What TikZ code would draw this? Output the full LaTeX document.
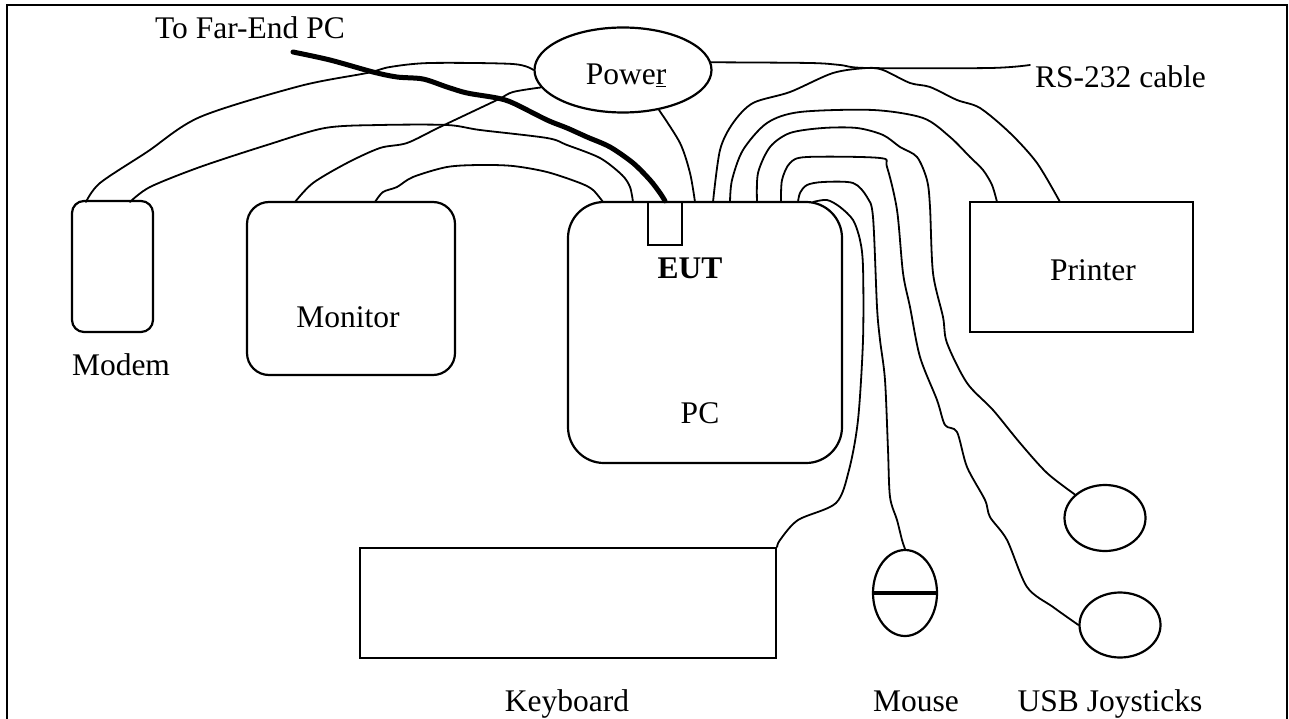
\documentclass[tikz,border=0pt]{standalone}
\usepackage{fontspec}
\setmainfont{Liberation Serif}
\usetikzlibrary{shapes.geometric}

\tikzset{
  device/.style={draw, line width=2.2pt, inner sep=0pt},
  roundbox/.style={device, rectangle, rounded corners=#1},
  blob/.style={device, ellipse},
  cable/.style={line width=1.8pt, line join=round, line cap=round},
  farcable/.style={line width=5pt, line join=round, line cap=round},
  tag/.style={inner sep=0pt},
}

\begin{document}
\begin{tikzpicture}[x=1pt, y=-1pt, font=\fontsize{31.5}{36}\selectfont]
\useasboundingbox (0,0) rectangle (1289,719);
\draw[line width=2pt] (7,719) -- (7,5) -- (1287,5) -- (1287,719);

% equipment
\node[roundbox=12pt, minimum width=81pt, minimum height=131pt] (modem) at (112.5,266.5) {};
\node[roundbox=22pt, minimum width=208pt, minimum height=173pt] (monitor) at (351,288.5) {};
\node[roundbox=36pt, minimum width=274pt, minimum height=261pt] (pc) at (705,332.5) {};
\node[device, rectangle, minimum width=34pt, minimum height=43pt] (port) at (665,223.5) {};
\node[device, rectangle, minimum width=223pt, minimum height=130pt] (printer) at (1081.5,267) {};
\node[device, rectangle, minimum width=416pt, minimum height=110pt] (kbd) at (568,603) {};
\node[blob, minimum width=64pt, minimum height=86pt] (mouse) at (905,593) {};
\draw[line width=3.5pt] (mouse.west) -- (mouse.east);
\node[blob, minimum width=81pt, minimum height=66pt] (joy1) at (1105,518) {};
\node[blob, minimum width=81pt, minimum height=65pt] (joy2) at (1120,625) {};
\node[blob, minimum width=177pt, minimum height=85pt] (power) at (623,70) {};
\node[tag] (powerlbl) at (626,75) {Powe\underline{r}};

% labels
\node[tag] (modemlbl) at (121,365) {Modem};
\node[tag] (monitorlbl) at (348,317) {Monitor};
\node[tag, font=\fontsize{31.5}{36}\selectfont\bfseries] (eutlbl) at (690,268) {EUT};
\node[tag] (pclbl) at (700,413) {PC};
\node[tag] (printerlbl) at (1093,270) {Printer};
\node[tag, anchor=base] (kbdlbl) at (567,711) {Keyboard};
\node[tag, anchor=base] (mouselbl) at (916,711) {Mouse};
\node[tag, anchor=base] (joylbl) at (1110,711) {USB Joysticks};
\node[tag] (farlbl) at (250,28) {To Far-End PC};
\node[tag, anchor=west] (rslbl) at (1035,77) {RS-232 cable};

% cable ends
\coordinate (far) at (293,52);
\coordinate (md1) at (86,202);
\coordinate (md2) at (130,202);
\coordinate (mn1) at (295,202);
\coordinate (mn2) at (375,202);
\coordinate (pc1) at (603,202);
\coordinate (pc2) at (633,202);
\coordinate (pc3) at (695,202);
\coordinate (pc4) at (713,202);
\coordinate (pc5) at (730,202);
\coordinate (pc6) at (757,202);
\coordinate (pc7) at (781,202);
\coordinate (pc8) at (798,202);
\coordinate (pc9) at (813,202);
\coordinate (pr1) at (997,202);
\coordinate (pr2) at (1060,202);

% cables
\draw[cable] plot[smooth, tension=0.5] coordinates {(md1) (100,183) (147,152) (200,117) (300,86) (367,73) (390,67) (430,63) (513,64) (power.west)};
\draw[cable] plot[smooth, tension=0.5] coordinates {(md2) (150,187) (200,167) (267,145) (325,128) (380,125) (447,125) (480,130) (547,138) (567,145) (600,158) (622,175) (630,187) (pc2)};
\draw[cable] plot[smooth, tension=0.5] coordinates {(power.192) (513,92) (497,100) (440,127) (407,143) (380,148) (347,163) (313,183) (mn1)};
\draw[cable] plot[smooth, tension=0.5] coordinates {(mn2) (383,192) (397,187) (413,177) (447,167) (480,165) (513,166) (547,172) (580,183) (593,190) (pc1)};
\draw[cable] plot[smooth, tension=0.5] coordinates {(power.312) (680,143) (690,173) (pc3)};
\draw[cable] plot[smooth, tension=0.5] coordinates {(power.5) (810,63) (840,65) (867,68) (990,68) ([xshift=-5pt,yshift=12pt]rslbl.west)};
\draw[cable] plot[smooth, tension=0.5] coordinates {(pc4) (720,150) (733,123) (753,103) (790,92) (833,73) (867,68) (883,70) (910,83) (930,87) (957,100) (980,108) (1010,133) (1037,163) (pr2)};
\draw[cable] plot[smooth, tension=0.5] coordinates {(pc5) (732,180) (743,150) (767,123) (800,112) (873,110) (923,118) (950,137) (970,157) (983,170) (992,185) (pr1)};
\draw[cable] plot[smooth, tension=0.5] coordinates {(pc6) (758,173) (770,147) (790,133) (823,128) (857,128) (883,135) (900,147) (917,157) (927,180) (930,207) (933,273) (943,317) (947,343) (967,383) (993,410) (1020,443) (1047,473) (joy1.142)};
\draw[cable] plot[smooth, tension=0.5] coordinates {(pc7) (782,180) (790,163) (807,157) (880,158) (887,167) (897,210) (903,273) (910,307) (920,357) (937,400) (945,425) (957,432) (967,467) (985,500) (990,517) (1007,540) (1027,587) (1053,607) (joy2.west)};
\draw[cable] plot[smooth, tension=0.5] coordinates {(pc8) (800,193) (807,185) (823,182) (853,183) (867,197) (873,217) (877,307) (880,340) (885,380) (888,450) (890,497) (897,520) (902,540) (mouse.north)};
\draw[cable] plot[smooth, tension=0.5] coordinates {(pc9) (827,200) (840,207) (853,220) (860,240) (863,267) (863,340) (858,420) (849,470) (836,503) (798,520) (780,540) (kbd.north east)};
\draw[farcable] plot[smooth, tension=0.5] coordinates {(far) (330,60) (373,72) (397,77) (423,79) (447,87) (467,93) (497,98) (513,103) (547,120) (567,128) (587,137) (610,147) (633,163) (650,180) (660,193) (port.north)};
\end{tikzpicture}
\end{document}
